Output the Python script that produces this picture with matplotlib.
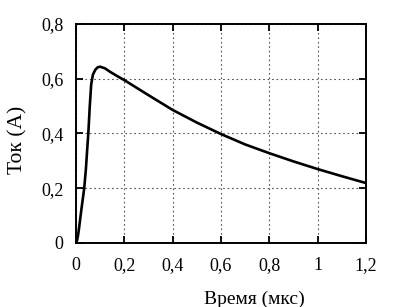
import numpy as np
import matplotlib.pyplot as plt

# current pulse
t_us = [0, 0.004, 0.008, 0.012, 0.022, 0.034, 0.041, 0.047, 0.051, 0.057,
        0.063, 0.07, 0.08, 0.09, 0.1, 0.12, 0.14, 0.17, 0.2, 0.3, 0.4, 0.5,
        0.6, 0.7, 0.8, 0.9, 1.0, 1.1, 1.2]
current = [0, 0.008, 0.025, 0.05, 0.12, 0.2, 0.27, 0.35, 0.4, 0.5,
           0.58, 0.615, 0.633, 0.642, 0.644, 0.638, 0.626, 0.61, 0.595, 0.54,
           0.486, 0.44, 0.398, 0.36, 0.328, 0.298, 0.27, 0.244, 0.219]

xticks = [0, 0.2, 0.4, 0.6, 0.8, 1.0, 1.2]
xlabels = ["0", "0,2", "0,4", "0,6", "0,8", "1", "1,2"]
yticks = [0, 0.2, 0.4, 0.6, 0.8]
ylabels = ["0", "0,2", "0,4", "0,6", "0,8"]

plt.rcParams['font.family'] = ['Liberation Serif', 'DejaVu Serif']

fig = plt.figure(figsize=(4.01, 3.07), dpi=100)
ax = fig.add_axes([0.1895, 0.2085, 0.7232, 0.7133])

ax.plot(t_us, current, color='black', lw=1.9, solid_joinstyle='round')
ax.set_xlim(0, 1.2)
ax.set_ylim(0, 0.8)
ax.set_xticks(xticks)
ax.set_xticklabels(xlabels, fontsize=13)
ax.set_yticks(yticks)
ax.set_yticklabels(ylabels, fontsize=13)
ax.tick_params(direction='in', top=True, right=True, length=5, width=1.3)
ax.tick_params(axis='x', pad=10)
ax.tick_params(axis='y', pad=9)
ax.grid(True, linestyle=(0, (1.5, 2.5)), color='#555555', lw=0.8)
for s in ax.spines.values():
    s.set_linewidth(1.4)

ax.set_xlabel("Время (мкс)", fontsize=14)
ax.set_ylabel("Ток (А)", fontsize=15.5)
ax.xaxis.set_label_coords(0.614, -0.22)
ax.yaxis.set_label_coords(-0.166, 0.47)

fig.savefig("out.png", dpi=100)
